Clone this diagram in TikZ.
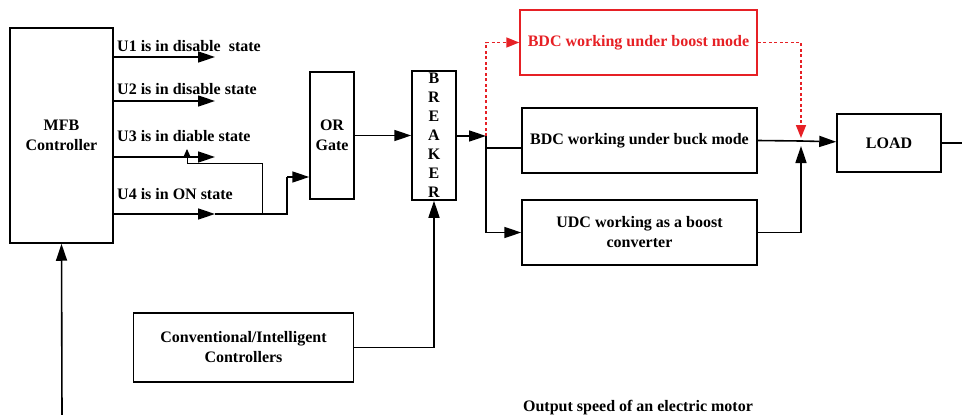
\documentclass[tikz,border=0pt]{standalone}
\usepackage{fontspec}
\setmainfont{Liberation Serif}
\usetikzlibrary{arrows.meta, positioning}
\definecolor{boostred}{RGB}{230,32,37}

\begin{document}
\begin{tikzpicture}[
    x=1pt, y=-1pt,
    box/.style={
        rectangle,
        draw,
        line width=1.5pt,
        align=center,
        inner sep=0pt,
        font=\bfseries\fontsize{16}{20}\selectfont
    },
    lbl/.style={
        inner sep=0pt,
        font=\bfseries\fontsize{16}{20}\selectfont
    },
    line/.style={line width=1.6pt},
    arrow/.style={-{Triangle[length=17pt, width=11pt]}, line width=1.6pt},
    redarrow/.style={-{Triangle[length=13pt, width=10pt]}, line width=1.6pt,
        boostred, dash pattern=on 3pt off 2.5pt},
    fbarrow/.style={-{Triangle[length=8pt, width=7pt]}, line width=0.9pt}
]
\useasboundingbox (0,0) rectangle (962,415);

\node[box, minimum width=103pt, minimum height=215pt] (mfb) at (61.5,135.5) {MFB\\Controller};
\node[box, minimum width=44pt, minimum height=127pt] (orgate) at (332,135.5) {OR\\Gate};
\node[box, minimum width=44pt, minimum height=129pt, font=\bfseries\fontsize{16}{19}\selectfont] (breaker) at (434,135.5) {B\\R\\E\\A\\K\\E\\R};

\node[box, draw=boostred, text=boostred, minimum width=237pt, minimum height=65pt] (boost) at (638.5,42.5) {BDC working under boost mode};
\node[box, minimum width=235pt, minimum height=65pt] (buck) at (639.5,140.5) {BDC working under buck mode};
\node[box, minimum width=235pt, minimum height=65pt] (udc) at (639.5,232.5) {UDC working as a boost\\converter};
\node[box, minimum width=104pt, minimum height=58pt] (load) at (889,143) {LOAD};

\node[box, minimum width=220pt, minimum height=69pt] (ctrl) at (243.5,347.5) {Conventional/Intelligent\\Controllers};
\node[lbl, anchor=base] (speed) at (638,411) {Output speed of an electric motor};

% state outputs of the controller
\node[lbl, anchor=base west] (u1txt) at (117,51) {U1 is in disable\ \ state};
\node[lbl, anchor=base west] (u2txt) at (117,94) {U2 is in disable state};
\node[lbl, anchor=base west] (u3txt) at (117,141) {U3 is in diable state};
\node[lbl, anchor=base west] (u4txt) at (117,199) {U4 is in ON state};

\coordinate (u1tip) at (215,57);
\coordinate (u2tip) at (215,101);
\coordinate (u3tip) at (215,157);
\coordinate (u4tip) at (215,214);
\coordinate (jor) at (287,177);
\coordinate (fbstart) at (262,214);
\coordinate (fbtip) at (187,149);

\coordinate (jb) at (486,136);
\coordinate (jbuck) at (486,148);
\coordinate (jl) at (801,141);
\coordinate (jlred) at (801,138);
\coordinate (jlbot) at (801,146);
\coordinate (loadout) at (962,143);
\coordinate (speedin) at (62,415);

\draw[arrow] (mfb.east |- u1tip) -- (u1tip);
\draw[arrow] (mfb.east |- u2tip) -- (u2tip);
\draw[arrow] (mfb.east |- u3tip) -- (u3tip);
\draw[arrow] (mfb.east |- u4tip) -- (u4tip);
\draw[line] (u4tip) -| (jor);
\draw[arrow] (jor) -- (orgate.west |- jor);
\draw[fbarrow] (fbstart) -- ++(0,-51) -| (fbtip);

\draw[arrow] (orgate) -- (breaker);
\draw[arrow] (breaker.east |- jb) -- (jb);
\draw[line] (jb) -- (jbuck) -- (buck.west |- jbuck);
\draw[arrow] (jb) |- (udc.west);
\draw[redarrow] (jb) |- (boost.west);

\draw[redarrow] (boost.east) -| (jlred);
\draw[line] (buck.east) -- (jl);
\draw[arrow] (udc.east) -| (jlbot);
\draw[arrow] (jl) -- (load);
\draw[line] (load) -- (loadout);

\draw[arrow] (ctrl.east) -| (breaker.south);
\draw[arrow] (speedin) -- (mfb.south);

\end{tikzpicture}
\end{document}
